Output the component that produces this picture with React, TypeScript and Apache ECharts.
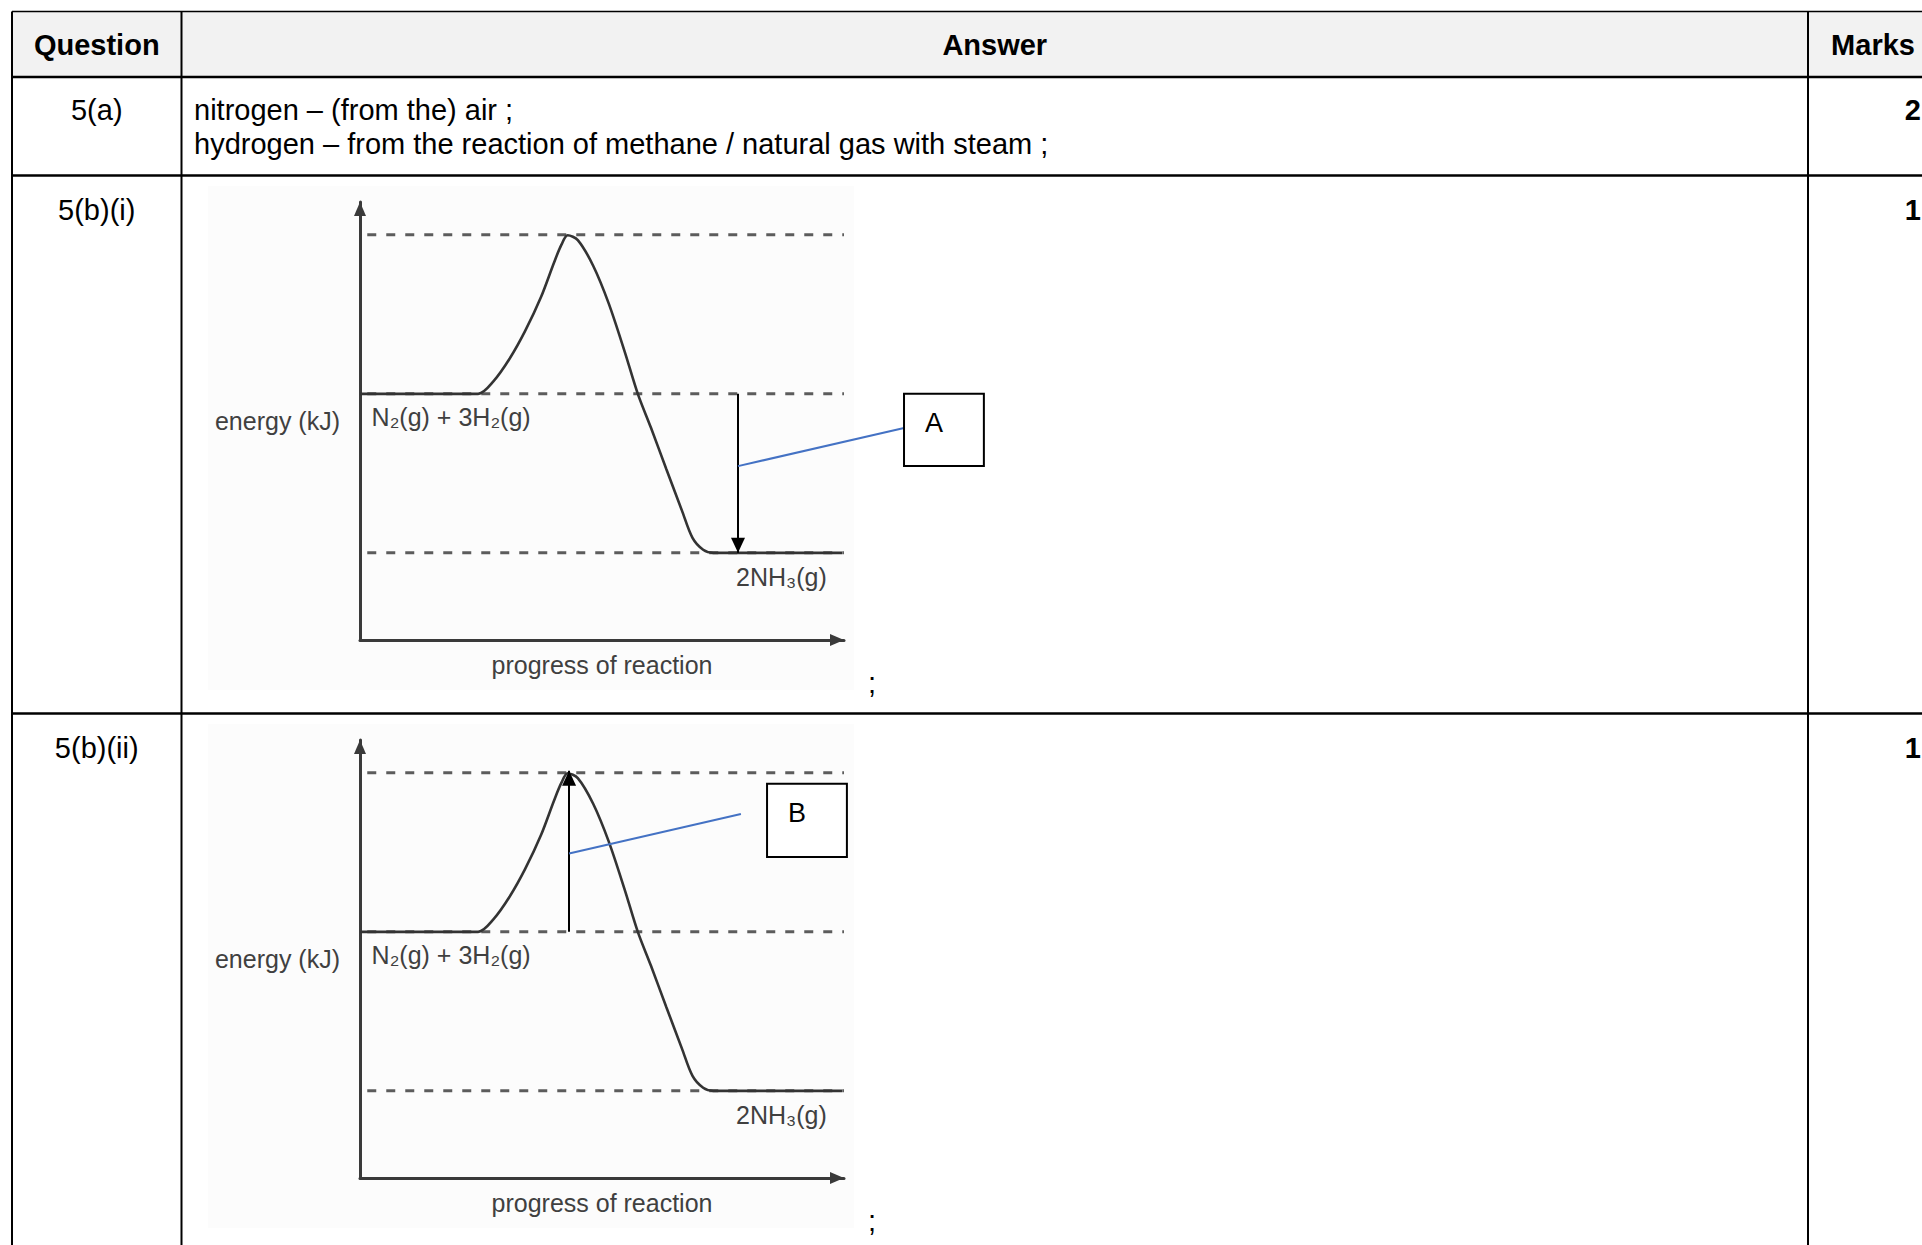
import React, { useEffect, useRef } from "react";
import * as echarts from "echarts";

// ---------- table text ----------
const headers = ["Question", "Answer", "Marks"];
const questionLabels = ["5(a)", "5(b)(i)", "5(b)(ii)"];
const answerLines5a = [
  "nitrogen – (from the) air ;",
  "hydrogen – from the reaction of methane / natural gas with steam ;",
];
const markValues = ["2", "1", "1"];
const answerEnd = ";";

// ---------- energy profile (arbitrary units) ----------
const progress = [0, 12, 24.4, 27.6, 30.9, 34.1, 37.4, 40.1, 41.6, 42.9, 45.0, 48.2, 51.4, 54.7, 57.4, 60.1, 63.3, 66.5, 68.7, 70.9, 73.0, 86, 99.6];
const energy = [56.2, 56.2, 56.2, 59.1, 64.2, 70.5, 78.3, 86.2, 90.2, 92.4, 91.3, 85.4, 76.8, 65.8, 56.2, 48.5, 39.0, 29.6, 23.3, 20.6, 19.9, 19.9, 19.9];
const levelEnergy = [92.5, 56.2, 19.9]; // transition state, reactants, products
const levelSpan = [1.5, 100];
const speciesText = ["N₂(g) + 3H₂(g)", "2NH₃(g)"];
const xAxisName = "progress of reaction";
const yAxisName = "energy (kJ)";

// arrows (one per diagram): x position, from energy, to energy
const arrowX = [78.1, 43.2];
const arrowFrom = [56.2, 56.2];
const arrowTo = [19.9, 93.0];
const boxLabels = ["A", "B"];

// ---------- layout (pixels / data-unit anchors) ----------
const W = 1922;
const H = 1245;
const FONT = "'Liberation Sans', Arial, Helvetica, sans-serif";
const colX = [12, 181.5, 1808];
const rowY = [11.5, 77, 175.5, 713.5];
const textY = [44.5, 110, 210, 748];
const gridBoxes = [
  { left: 360, top: 202, width: 484, height: 438 },
  { left: 360, top: 740, width: 484, height: 438 },
];
const speciesAnchor = [
  [2.4, 50.9],
  [77.7, 14.4],
];
const boxCorners = [
  [[112.4, 56.2], [128.9, 39.7]],
  [[84.1, 90.0], [100.6, 73.3]],
];
const leaderEnds = [
  [[78.1, 39.7], [112.4, 48.4]],
  [[43.2, 74.1], [78.7, 83.1]],
];
const semicolonY = [683, 1221];

function txt(text: string, x: number, y: number, o: any = {}) {
  const align = o.align || "left";
  return {
    type: "text",
    x,
    y,
    z: 20,
    silent: true,
    style: {
      text,
      fill: o.fill || "#000",
      fontSize: o.fontSize || 29,
      fontWeight: o.fontWeight || "normal",
      fontFamily: FONT,
      align,
      textAlign: align,
      verticalAlign: "middle",
      textVerticalAlign: "middle",
    },
  };
}
function hline(x1: number, x2: number, y: number, w: number) {
  return { type: "line", z: 15, silent: true, shape: { x1, y1: y, x2, y2: y }, style: { stroke: "#000", lineWidth: w } };
}
function vline(x: number, y1: number, y2: number, w: number) {
  return { type: "line", z: 15, silent: true, shape: { x1: x, y1, x2: x, y2 }, style: { stroke: "#000", lineWidth: w } };
}

export default function App() {
  const ref = useRef<HTMLDivElement>(null);
  useEffect(() => {
    if (!ref.current) return;
    const chart = echarts.init(ref.current, null, { renderer: "svg" });

    const axisLine = {
      show: true,
      onZero: false,
      symbol: ["none", "triangle"],
      symbolSize: [12, 14],
      symbolOffset: [0, -7],
      lineStyle: { color: "#3a3a3a", width: 3 },
    };
    const nameStyle = { fontSize: 25, color: "#404040", fontFamily: FONT };

    const grids = gridBoxes.map((g) => ({ ...g, containLabel: false, outerBoundsMode: "none" }));
    const xAxes = gridBoxes.map((_, g) => ({
      gridIndex: g,
      type: "value",
      min: 0,
      max: 100,
      name: xAxisName,
      nameLocation: "middle",
      nameGap: 12,
      nameTextStyle: nameStyle,
      axisLine,
      axisTick: { show: false },
      axisLabel: { show: false },
      splitLine: { show: false },
    }));
    const yAxes = gridBoxes.map((_, g) => ({
      gridIndex: g,
      type: "value",
      min: 0,
      max: 100,
      name: yAxisName,
      nameLocation: "middle",
      nameRotate: 0,
      nameGap: 20,
      nameTextStyle: nameStyle,
      axisLine,
      axisTick: { show: false },
      axisLabel: { show: false },
      splitLine: { show: false },
    }));

    const series: any[] = [];
    gridBoxes.forEach((_, g) => {
      levelEnergy.forEach((e) => {
        series.push({
          type: "line",
          xAxisIndex: g,
          yAxisIndex: g,
          data: [[levelSpan[0], e], [levelSpan[1], e]],
          symbol: "none",
          silent: true,
          lineStyle: { color: "#5c5c5c", width: 3, type: [9, 10] },
          z: 3,
        });
      });
      series.push({
        type: "line",
        xAxisIndex: g,
        yAxisIndex: g,
        data: progress.map((p, i) => [p, energy[i]]),
        smooth: 0.3,
        symbol: "none",
        clip: false,
        silent: true,
        lineStyle: { color: "#333", width: 2.6 },
        z: 4,
        markLine: {
          silent: true,
          symbol: ["none", "triangle"],
          symbolSize: [14, 15],
          symbolOffset: [0, [0, 7.5]],
          label: { show: false },
          lineStyle: { color: "#000", width: 2, type: "solid" },
          data: [[{ coord: [arrowX[g], arrowFrom[g]] }, { coord: [arrowX[g], arrowTo[g]] }]],
        },
      });
    });

    chart.setOption({
      animation: false,
      backgroundColor: "#fff",
      grid: grids,
      xAxis: xAxes,
      yAxis: yAxes,
      series,
    });

    const px = (g: number, p: number[]) => chart.convertToPixel({ gridIndex: g } as any, p) as number[];

    const graphic: any[] = [];
    // header background
    graphic.push({ type: "rect", z: 0, silent: true, shape: { x: colX[0], y: rowY[0], width: W - colX[0], height: rowY[1] - rowY[0] }, style: { fill: "#f2f2f2" } });
    // faint diagram backgrounds
    graphic.push({ type: "rect", z: 0, silent: true, shape: { x: 208, y: 186, width: 646, height: 504 }, style: { fill: "#fcfcfc" } });
    graphic.push({ type: "rect", z: 0, silent: true, shape: { x: 208, y: 724, width: 646, height: 504 }, style: { fill: "#fcfcfc" } });
    // table lines
    graphic.push(hline(colX[0], W, rowY[0], 1.5));
    graphic.push(hline(colX[0], W, rowY[1], 2.5));
    graphic.push(hline(colX[0], W, rowY[2], 2.5));
    graphic.push(hline(colX[0], W, rowY[3], 2.5));
    graphic.push(vline(colX[0], rowY[0], H, 2));
    graphic.push(vline(colX[1], rowY[0], H, 2));
    graphic.push(vline(colX[2], rowY[0], H, 2));
    // header texts
    graphic.push(txt(headers[0], (colX[0] + colX[1]) / 2, textY[0], { align: "center", fontWeight: "bold" }));
    graphic.push(txt(headers[1], (colX[1] + colX[2]) / 2, textY[0], { align: "center", fontWeight: "bold" }));
    graphic.push(txt(headers[2], 1873, textY[0], { align: "center", fontWeight: "bold" }));
    // questions and marks
    questionLabels.forEach((q, i) => {
      graphic.push(txt(q, (colX[0] + colX[1]) / 2, textY[i + 1], { align: "center" }));
      graphic.push(txt(markValues[i], 1921, textY[i + 1], { align: "right", fontWeight: "bold" }));
    });
    // answer 5(a)
    answerLines5a.forEach((l, i) => graphic.push(txt(l, 194, textY[1] + i * 34, {})));
    // semicolons after diagrams
    semicolonY.forEach((y) => graphic.push(txt(answerEnd, 872, y, { align: "center" })));

    // diagram annotations
    gridBoxes.forEach((_, g) => {
      const r = px(g, speciesAnchor[0]);
      graphic.push(txt(speciesText[0], r[0], r[1], { fontSize: 25, fill: "#404040" }));
      const p = px(g, speciesAnchor[1]);
      graphic.push(txt(speciesText[1], p[0], p[1], { fontSize: 25, fill: "#404040" }));

      const a = px(g, leaderEnds[g][0]);
      const b = px(g, leaderEnds[g][1]);
      graphic.push({ type: "line", z: 12, silent: true, shape: { x1: a[0], y1: a[1], x2: b[0], y2: b[1] }, style: { stroke: "#4472c4", lineWidth: 2 } });

      const c0 = px(g, boxCorners[g][0]);
      const c1 = px(g, boxCorners[g][1]);
      graphic.push({
        type: "rect",
        z: 13,
        silent: true,
        shape: { x: c0[0], y: c0[1], width: c1[0] - c0[0], height: c1[1] - c0[1] },
        style: { fill: "#fff", stroke: "#000", lineWidth: 2 },
      });
      graphic.push(txt(boxLabels[g], c0[0] + 21, c0[1] + 29.5, { fontSize: 27 }));
    });

    chart.setOption({ graphic });
    return () => chart.dispose();
  }, []);

  return (
    <div
      ref={ref}
      style={{ position: "absolute", left: 0, top: 0, width: W, height: H, background: "#fff" }}
    />
  );
}
